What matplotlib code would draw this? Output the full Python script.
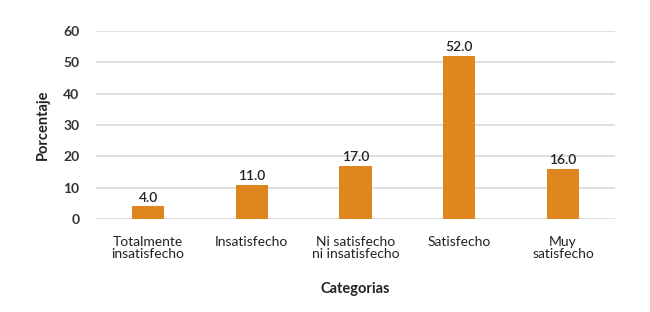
import matplotlib
matplotlib.use("Agg")
import matplotlib.pyplot as plt

categories = ["Totalmente\ninsatisfecho", "Insatisfecho", "Ni satisfecho\nni insatisfecho", "Satisfecho", "Muy\nsatisfecho"]
values = [4.0, 11.0, 17.0, 52.0, 16.0]
yticks = [0, 10, 20, 30, 40, 50, 60]

plt.rcParams['font.family'] = ['Lato', 'DejaVu Sans']

fig = plt.figure(figsize=(6.5, 3.12), dpi=100)
ax = fig.add_axes([0.148, 0.298, 0.798, 0.603])
x = range(len(categories))
bars = ax.bar(x, values, width=0.31, color="#E0861E", zorder=3)
for xi, v in zip(x, values):
    ax.text(xi, v + 0.8, f"{v:.1f}", ha="center", va="bottom", fontsize=10, color="#222222", fontweight="semibold")
ax.set_xlim(-0.5, 4.5)
ax.set_ylim(0, 60)
ax.set_yticks(yticks)
ax.set_yticklabels([str(t) for t in yticks], fontsize=10, fontweight="bold", color="#333333")
ax.set_xticks(list(x))
ax.set_xticklabels(categories, fontsize=10, color="#222222", linespacing=1.0)
ax.yaxis.grid(True, color="#d9d9d9", linewidth=1.2, zorder=0)
for s in ax.spines.values():
    s.set_visible(False)
ax.tick_params(axis="both", length=0)
ax.tick_params(axis="y", pad=12)
ax.tick_params(axis="x", pad=12)
ax.set_ylabel("Porcentaje", fontsize=10.5, fontweight="bold", color="#222222", labelpad=10)
ax.set_xlabel("Categorias", fontsize=10.5, fontweight="bold", color="#222222", labelpad=16)
fig.savefig("out.png", dpi=100)
